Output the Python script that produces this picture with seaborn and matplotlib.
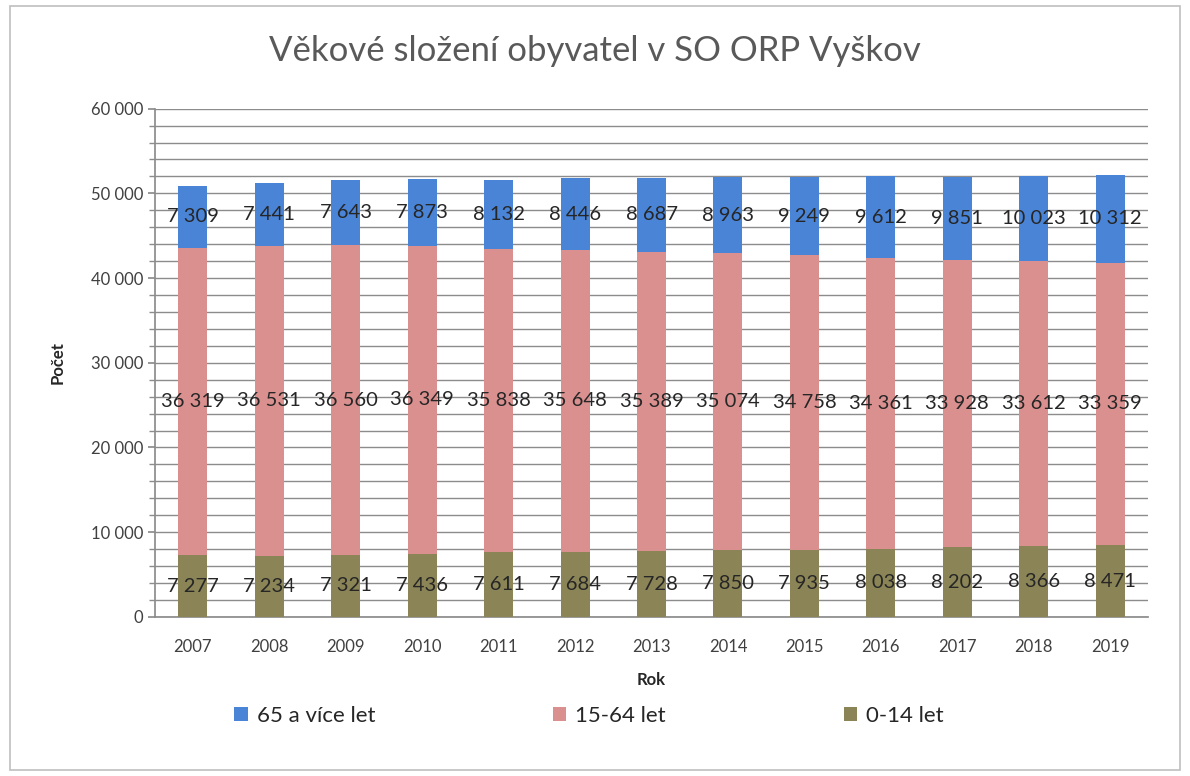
import numpy as np
import pandas as pd
import matplotlib
matplotlib.use("Agg")
import matplotlib.pyplot as plt
import matplotlib.ticker as mticker
from matplotlib.patches import Rectangle
import seaborn as sns

# Data
years = ["2007", "2008", "2009", "2010", "2011", "2012", "2013",
         "2014", "2015", "2016", "2017", "2018", "2019"]
age_0_14 = [7277, 7234, 7321, 7436, 7611, 7684, 7728, 7850, 7935, 8038, 8202, 8366, 8471]
age_15_64 = [36319, 36531, 36560, 36349, 35838, 35648, 35389, 35074, 34758, 34361, 33928, 33612, 33359]
age_65 = [7309, 7441, 7643, 7873, 8132, 8446, 8687, 8963, 9249, 9612, 9851, 10023, 10312]

series_names = ["65 a více let", "15-64 let", "0-14 let"]
colors = {"0-14 let": "#8b8456", "15-64 let": "#d9908f", "65 a více let": "#4a84d6"}

sns.set_theme(style="white")
plt.rcParams['font.family'] = ['Lato', 'DejaVu Sans']

df = pd.DataFrame({"Rok": years, "0-14 let": age_0_14,
                   "15-64 let": age_15_64, "65 a více let": age_65})

fig = plt.figure(figsize=(11.9, 7.76), dpi=100)
ax = fig.add_axes([0.130, 0.205, 0.835, 0.655])

def fmt(v):
    return f"{int(v):,}".replace(",", " ")

bottom = np.zeros(len(years))
for name in ["0-14 let", "15-64 let", "65 a více let"]:
    sns.barplot(data=df, x="Rok", y=name, color=colors[name], width=0.38,
                bottom=bottom, ax=ax, label=name, saturation=1, zorder=3,
                linewidth=0, edgecolor="none")
    cont = ax.containers[-1]
    ax.bar_label(cont, labels=[fmt(v) for v in df[name]], label_type="center",
                 fontsize=14.5, color="#262626", zorder=4)
    bottom = bottom + df[name].values

ax.set_ylim(0, 60000)
ax.yaxis.set_major_locator(mticker.MultipleLocator(10000))
ax.yaxis.set_minor_locator(mticker.MultipleLocator(2000))
ax.yaxis.set_major_formatter(mticker.FuncFormatter(lambda v, p: fmt(v)))
ax.grid(axis="y", which="both", color="#8c8c8c", linewidth=1.0, zorder=0)
ax.set_axisbelow(True)
ax.tick_params(axis="y", which="both", left=True, length=5, color="#8c8c8c",
               labelsize=12, labelcolor="#404040")
ax.tick_params(axis="y", which="minor", length=4)
ax.tick_params(axis="x", labelsize=12, labelcolor="#404040", bottom=False, pad=10)

for side in ["top", "right"]:
    ax.spines[side].set_visible(False)
ax.spines["left"].set_color("#8c8c8c")
ax.spines["bottom"].set_color("#8c8c8c")

ax.set_xlabel("Rok", fontsize=12, fontweight="bold", color="#262626", labelpad=12)
ax.set_ylabel("Počet", fontsize=12, fontweight="bold", color="#262626", labelpad=18)

fig.suptitle("Věkové složení obyvatel v SO ORP Vyškov", fontsize=25,
             color="#595959", y=0.955)

handles, labels = ax.get_legend_handles_labels()
order = [labels.index(n) for n in series_names]
ax.legend([handles[i] for i in order], [labels[i] for i in order],
          loc="upper center", bbox_to_anchor=(0.437, -0.135), ncol=3,
          frameon=False, fontsize=16, handlelength=0.6, handleheight=0.6,
          columnspacing=8, handletextpad=0.4)

fig.patches.append(Rectangle((0.008, 0.008), 0.984, 0.984, transform=fig.transFigure,
                             fill=False, edgecolor="#bfbfbf", linewidth=1.2))

fig.savefig("out.png", dpi=100)
